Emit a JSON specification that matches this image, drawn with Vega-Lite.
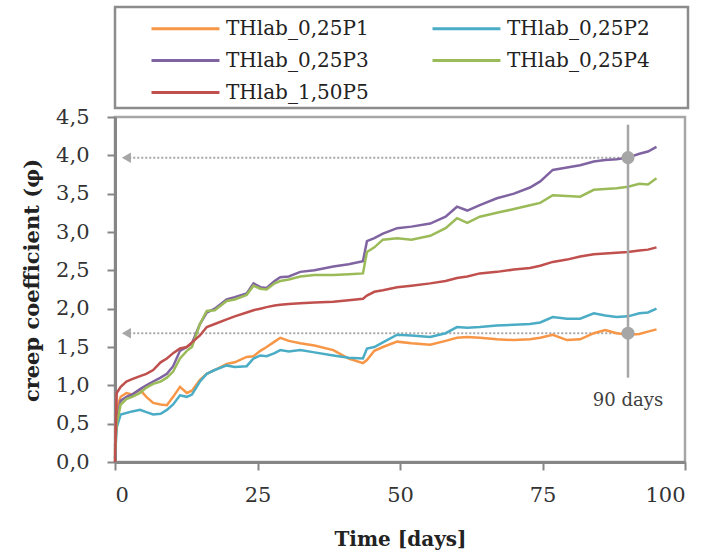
{
  "$schema": "https://vega.github.io/schema/vega-lite/v6.json",
  "width": 570,
  "height": 345,
  "autosize": {"type": "none"},
  "padding": {"left": 115, "top": 117, "right": 38, "bottom": 96},
  "background": "white",
  "config": {
    "view": {"stroke": "#a6a6a6", "strokeWidth": 2.5},
    "font": "DejaVu Serif",
    "axis": {
      "grid": false,
      "domainColor": "#868686",
      "domainWidth": 3,
      "tickColor": "#868686",
      "tickWidth": 2,
      "tickSize": 8,
      "labelFont": "DejaVu Serif",
      "labelFontSize": 21,
      "labelColor": "#333333",
      "titleFont": "DejaVu Serif",
      "titleFontWeight": "bold",
      "titleFontSize": 20,
      "titleColor": "#222222"
    },
    "legend": {
      "orient": "none",
      "legendX": 0,
      "legendY": -110,
      "columns": 2,
      "direction": "horizontal",
      "symbolType": "M-1,0H3.53",
      "symbolSize": 900,
      "symbolStrokeWidth": 3,
      "symbolOffset": 30,
      "labelFont": "DejaVu Serif",
      "labelFontSize": 20,
      "labelColor": "#222222",
      "labelOffset": 43,
      "labelLimit": 300,
      "columnPadding": 32,
      "rowPadding": 5,
      "padding": 5,
      "strokeColor": "#8c8c8c",
      "strokeWidth": 2.5,
      "fillColor": "white",
      "titleOrient": "right",
      "titlePadding": 33,
      "titleFontSize": 10
    }
  },
  "datasets": {
    "curves": [
      {"t": 0, "THlab_0,25P1": 0.1, "THlab_0,25P2": 0.05, "THlab_0,25P3": 0.2, "THlab_0,25P4": 0.15, "THlab_1,50P5": 0.0},
      {"t": 0.3, "THlab_0,25P1": 0.7, "THlab_0,25P2": 0.45, "THlab_0,25P3": 0.55, "THlab_0,25P4": 0.5, "THlab_1,50P5": 0.9},
      {"t": 1, "THlab_0,25P1": 0.85, "THlab_0,25P2": 0.62, "THlab_0,25P3": 0.8, "THlab_0,25P4": 0.75, "THlab_1,50P5": 0.98},
      {"t": 2, "THlab_0,25P1": 0.9, "THlab_0,25P2": 0.64, "THlab_0,25P3": 0.85, "THlab_0,25P4": 0.82, "THlab_1,50P5": 1.05},
      {"t": 3, "THlab_0,25P1": 0.88, "THlab_0,25P2": 0.66, "THlab_0,25P3": 0.88, "THlab_0,25P4": 0.85, "THlab_1,50P5": 1.08},
      {"t": 4.4, "THlab_0,25P1": 0.94, "THlab_0,25P2": 0.68, "THlab_0,25P3": 0.95, "THlab_0,25P4": 0.9, "THlab_1,50P5": 1.12},
      {"t": 5.5, "THlab_0,25P1": 0.85, "THlab_0,25P2": 0.65, "THlab_0,25P3": 1.0, "THlab_0,25P4": 0.97, "THlab_1,50P5": 1.15},
      {"t": 6.7, "THlab_0,25P1": 0.77, "THlab_0,25P2": 0.62, "THlab_0,25P3": 1.05, "THlab_0,25P4": 1.02, "THlab_1,50P5": 1.2},
      {"t": 8, "THlab_0,25P1": 0.75, "THlab_0,25P2": 0.63, "THlab_0,25P3": 1.1, "THlab_0,25P4": 1.05, "THlab_1,50P5": 1.3},
      {"t": 9.1, "THlab_0,25P1": 0.74, "THlab_0,25P2": 0.68, "THlab_0,25P3": 1.15, "THlab_0,25P4": 1.1, "THlab_1,50P5": 1.35},
      {"t": 10.2, "THlab_0,25P1": 0.85, "THlab_0,25P2": 0.75, "THlab_0,25P3": 1.25, "THlab_0,25P4": 1.18, "THlab_1,50P5": 1.42},
      {"t": 11.4, "THlab_0,25P1": 0.98, "THlab_0,25P2": 0.87, "THlab_0,25P3": 1.45, "THlab_0,25P4": 1.35, "THlab_1,50P5": 1.48},
      {"t": 12.6, "THlab_0,25P1": 0.9, "THlab_0,25P2": 0.85, "THlab_0,25P3": 1.5, "THlab_0,25P4": 1.45, "THlab_1,50P5": 1.5},
      {"t": 13.5, "THlab_0,25P1": 0.93, "THlab_0,25P2": 0.88, "THlab_0,25P3": 1.55, "THlab_0,25P4": 1.5, "THlab_1,50P5": 1.56},
      {"t": 14.9, "THlab_0,25P1": 1.07, "THlab_0,25P2": 1.05, "THlab_0,25P3": 1.8, "THlab_0,25P4": 1.8, "THlab_1,50P5": 1.65},
      {"t": 16.1, "THlab_0,25P1": 1.15, "THlab_0,25P2": 1.15, "THlab_0,25P3": 1.95, "THlab_0,25P4": 1.97, "THlab_1,50P5": 1.76},
      {"t": 17.5, "THlab_0,25P1": 1.2, "THlab_0,25P2": 1.2, "THlab_0,25P3": 2.0, "THlab_0,25P4": 1.98, "THlab_1,50P5": 1.8},
      {"t": 19.6, "THlab_0,25P1": 1.28, "THlab_0,25P2": 1.26, "THlab_0,25P3": 2.12, "THlab_0,25P4": 2.1, "THlab_1,50P5": 1.86},
      {"t": 21, "THlab_0,25P1": 1.3, "THlab_0,25P2": 1.24, "THlab_0,25P3": 2.15, "THlab_0,25P4": 2.12, "THlab_1,50P5": 1.9},
      {"t": 23.1, "THlab_0,25P1": 1.37, "THlab_0,25P2": 1.25, "THlab_0,25P3": 2.2, "THlab_0,25P4": 2.18, "THlab_1,50P5": 1.95},
      {"t": 24.3, "THlab_0,25P1": 1.38, "THlab_0,25P2": 1.35, "THlab_0,25P3": 2.33, "THlab_0,25P4": 2.3, "THlab_1,50P5": 1.98},
      {"t": 25.5, "THlab_0,25P1": 1.45, "THlab_0,25P2": 1.39, "THlab_0,25P3": 2.28, "THlab_0,25P4": 2.26, "THlab_1,50P5": 2.0},
      {"t": 26.6, "THlab_0,25P1": 1.5, "THlab_0,25P2": 1.38, "THlab_0,25P3": 2.27, "THlab_0,25P4": 2.25, "THlab_1,50P5": 2.02},
      {"t": 28, "THlab_0,25P1": 1.57, "THlab_0,25P2": 1.42, "THlab_0,25P3": 2.36, "THlab_0,25P4": 2.33, "THlab_1,50P5": 2.04},
      {"t": 29, "THlab_0,25P1": 1.62, "THlab_0,25P2": 1.46, "THlab_0,25P3": 2.41, "THlab_0,25P4": 2.36, "THlab_1,50P5": 2.05},
      {"t": 30.5, "THlab_0,25P1": 1.58, "THlab_0,25P2": 1.44, "THlab_0,25P3": 2.42, "THlab_0,25P4": 2.38, "THlab_1,50P5": 2.06},
      {"t": 32.5, "THlab_0,25P1": 1.55, "THlab_0,25P2": 1.46, "THlab_0,25P3": 2.48, "THlab_0,25P4": 2.42, "THlab_1,50P5": 2.07},
      {"t": 35, "THlab_0,25P1": 1.52, "THlab_0,25P2": 1.43, "THlab_0,25P3": 2.5, "THlab_0,25P4": 2.44, "THlab_1,50P5": 2.08},
      {"t": 38.3, "THlab_0,25P1": 1.46, "THlab_0,25P2": 1.39, "THlab_0,25P3": 2.55, "THlab_0,25P4": 2.44, "THlab_1,50P5": 2.09},
      {"t": 41, "THlab_0,25P1": 1.35, "THlab_0,25P2": 1.36, "THlab_0,25P3": 2.58, "THlab_0,25P4": 2.45, "THlab_1,50P5": 2.11},
      {"t": 43.5, "THlab_0,25P1": 1.29, "THlab_0,25P2": 1.35, "THlab_0,25P3": 2.62, "THlab_0,25P4": 2.46, "THlab_1,50P5": 2.13},
      {"t": 44.2, "THlab_0,25P1": 1.33, "THlab_0,25P2": 1.48, "THlab_0,25P3": 2.88, "THlab_0,25P4": 2.74, "THlab_1,50P5": 2.17},
      {"t": 45.5, "THlab_0,25P1": 1.45, "THlab_0,25P2": 1.5, "THlab_0,25P3": 2.92, "THlab_0,25P4": 2.8, "THlab_1,50P5": 2.22},
      {"t": 47, "THlab_0,25P1": 1.5, "THlab_0,25P2": 1.56, "THlab_0,25P3": 2.98, "THlab_0,25P4": 2.9, "THlab_1,50P5": 2.24},
      {"t": 49.5, "THlab_0,25P1": 1.57, "THlab_0,25P2": 1.66, "THlab_0,25P3": 3.05, "THlab_0,25P4": 2.92, "THlab_1,50P5": 2.28},
      {"t": 52, "THlab_0,25P1": 1.55, "THlab_0,25P2": 1.65, "THlab_0,25P3": 3.07, "THlab_0,25P4": 2.9, "THlab_1,50P5": 2.3},
      {"t": 55.3, "THlab_0,25P1": 1.53, "THlab_0,25P2": 1.63, "THlab_0,25P3": 3.11, "THlab_0,25P4": 2.95, "THlab_1,50P5": 2.33},
      {"t": 58, "THlab_0,25P1": 1.58, "THlab_0,25P2": 1.68, "THlab_0,25P3": 3.2, "THlab_0,25P4": 3.05, "THlab_1,50P5": 2.36},
      {"t": 60, "THlab_0,25P1": 1.62, "THlab_0,25P2": 1.76, "THlab_0,25P3": 3.33, "THlab_0,25P4": 3.18, "THlab_1,50P5": 2.4},
      {"t": 61.8, "THlab_0,25P1": 1.63, "THlab_0,25P2": 1.75, "THlab_0,25P3": 3.28, "THlab_0,25P4": 3.12, "THlab_1,50P5": 2.42},
      {"t": 64, "THlab_0,25P1": 1.62, "THlab_0,25P2": 1.76, "THlab_0,25P3": 3.35, "THlab_0,25P4": 3.2, "THlab_1,50P5": 2.46},
      {"t": 67, "THlab_0,25P1": 1.6, "THlab_0,25P2": 1.78, "THlab_0,25P3": 3.44, "THlab_0,25P4": 3.25, "THlab_1,50P5": 2.48},
      {"t": 70, "THlab_0,25P1": 1.59, "THlab_0,25P2": 1.79, "THlab_0,25P3": 3.5, "THlab_0,25P4": 3.3, "THlab_1,50P5": 2.51},
      {"t": 72.8, "THlab_0,25P1": 1.6, "THlab_0,25P2": 1.8, "THlab_0,25P3": 3.58, "THlab_0,25P4": 3.35, "THlab_1,50P5": 2.53},
      {"t": 74.6, "THlab_0,25P1": 1.62, "THlab_0,25P2": 1.82, "THlab_0,25P3": 3.66, "THlab_0,25P4": 3.38, "THlab_1,50P5": 2.56},
      {"t": 76.8, "THlab_0,25P1": 1.66, "THlab_0,25P2": 1.89, "THlab_0,25P3": 3.81, "THlab_0,25P4": 3.48, "THlab_1,50P5": 2.61},
      {"t": 79.3, "THlab_0,25P1": 1.59, "THlab_0,25P2": 1.87, "THlab_0,25P3": 3.84, "THlab_0,25P4": 3.47, "THlab_1,50P5": 2.64},
      {"t": 81.6, "THlab_0,25P1": 1.6, "THlab_0,25P2": 1.87, "THlab_0,25P3": 3.87, "THlab_0,25P4": 3.46, "THlab_1,50P5": 2.68},
      {"t": 84, "THlab_0,25P1": 1.68, "THlab_0,25P2": 1.94, "THlab_0,25P3": 3.92, "THlab_0,25P4": 3.55, "THlab_1,50P5": 2.71},
      {"t": 86, "THlab_0,25P1": 1.72, "THlab_0,25P2": 1.91, "THlab_0,25P3": 3.94, "THlab_0,25P4": 3.56, "THlab_1,50P5": 2.72},
      {"t": 88, "THlab_0,25P1": 1.68, "THlab_0,25P2": 1.89, "THlab_0,25P3": 3.95, "THlab_0,25P4": 3.57, "THlab_1,50P5": 2.73},
      {"t": 90, "THlab_0,25P1": 1.66, "THlab_0,25P2": 1.9, "THlab_0,25P3": 3.97, "THlab_0,25P4": 3.59, "THlab_1,50P5": 2.74},
      {"t": 92, "THlab_0,25P1": 1.67, "THlab_0,25P2": 1.94, "THlab_0,25P3": 4.02, "THlab_0,25P4": 3.63, "THlab_1,50P5": 2.76},
      {"t": 93.5, "THlab_0,25P1": 1.7, "THlab_0,25P2": 1.95, "THlab_0,25P3": 4.05, "THlab_0,25P4": 3.62, "THlab_1,50P5": 2.77},
      {"t": 95, "THlab_0,25P1": 1.73, "THlab_0,25P2": 2.0, "THlab_0,25P3": 4.11, "THlab_0,25P4": 3.7, "THlab_1,50P5": 2.8}
    ],
    "vrule": [{"t": 90, "v": 1.1, "v2": 4.4}],
    "hrules": [{"t": 2.5, "t2": 90, "v": 3.97}, {"t": 2.5, "t2": 90, "v": 1.68}],
    "markers": [{"t": 90, "v": 3.97}, {"t": 90, "v": 1.68}],
    "arrows": [{"t": 2.0, "v": 3.97}, {"t": 2.0, "v": 1.68}],
    "labels": [{"t": 90, "v": 0.8, "label": "90 days"}]
  },
  "encoding": {
    "x": {
      "field": "t", "type": "quantitative",
      "scale": {"domain": [0, 100], "nice": false, "zero": false},
      "axis": {"title": "Time [days]", "values": [0, 25, 50, 75, 100], "labelPadding": 14, "titlePadding": 24}
    },
    "y": {
      "field": "v", "type": "quantitative",
      "scale": {"domain": [0, 4.5], "nice": false},
      "axis": {"title": "creep coefficient (φ)", "values": [0, 0.5, 1, 1.5, 2, 2.5, 3, 3.5, 4, 4.5], "labelExpr": "replace(format(datum.value, '.1f'), '.', ',')", "labelPadding": 18, "titlePadding": 13, "titleFontSize": 21, "titleY": 163}
    }
  },
  "layer": [
    {
      "data": {"name": "hrules"},
      "mark": {"type": "rule", "color": "#a6a6a6", "strokeWidth": 2, "strokeDash": [2, 2]},
      "encoding": {"x2": {"field": "t2"}}
    },
    {
      "data": {"name": "arrows"},
      "mark": {"type": "point", "shape": "triangle-left", "filled": true, "color": "#a6a6a6", "size": 110, "opacity": 1}
    },
    {
      "data": {"name": "curves"},
      "transform": [{"fold": ["THlab_0,25P1", "THlab_0,25P2", "THlab_0,25P3", "THlab_0,25P4", "THlab_1,50P5"], "as": ["s", "v"]}],
      "mark": {"type": "line", "strokeWidth": 2.5},
      "encoding": {
        "color": {
          "field": "s", "type": "nominal",
          "scale": {"domain": ["THlab_0,25P1", "THlab_0,25P2", "THlab_0,25P3", "THlab_0,25P4", "THlab_1,50P5"], "range": ["#F79646", "#4BACC6", "#8064A2", "#9BBB59", "#C0504D"]},
          "legend": {"title": " "}
        }
      }
    },
    {
      "data": {"name": "vrule"},
      "mark": {"type": "rule", "color": "#a6a6a6", "strokeWidth": 2.5},
      "encoding": {"y2": {"field": "v2"}}
    },
    {
      "data": {"name": "markers"},
      "mark": {"type": "point", "shape": "circle", "filled": true, "color": "#a6a6a6", "size": 170, "opacity": 1}
    },
    {
      "data": {"name": "labels"},
      "mark": {"type": "text", "font": "DejaVu Serif", "fontSize": 18, "color": "#404040", "align": "center", "baseline": "middle"},
      "encoding": {"text": {"field": "label"}}
    }
  ]
}
